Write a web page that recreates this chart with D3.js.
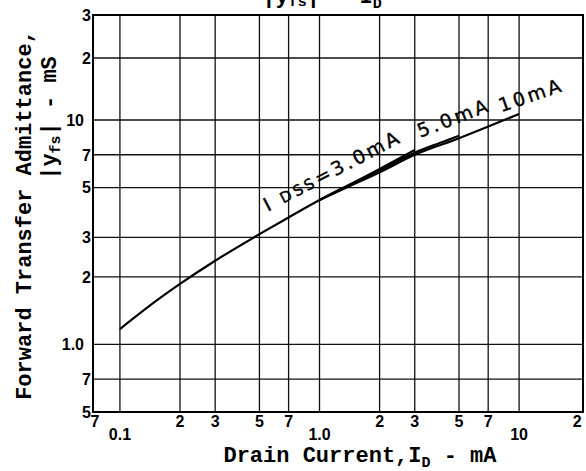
<html>
<head>
<script src="https://d3js.org/d3.v7.min.js" charset="utf-8"></script>
<style type="text/css">
  body { margin: 0; padding: 0; background: #fff; }
  svg { display: block; }
  .tick { font-family: "Liberation Sans", Arial, sans-serif; font-size: 16px; font-weight: bold; fill: #000; }
  .title { font-family: "Liberation Mono", "Courier New", monospace; font-size: 22px; font-weight: bold; fill: #000; }
  .note { font-family: "DejaVu Sans", sans-serif; font-size: 19px; fill: #000; stroke: #000; stroke-width: 0.4px; letter-spacing: 3px; }
</style>
</head>
<body>
<svg id="chart" width="586" height="471"></svg>
<script type="text/javascript">
// drain current (mA) and forward transfer admittance (mS) for each IDSS curve
var idss3Id  = [0.1, 0.15, 0.2, 0.3, 0.5, 0.7, 1.0, 1.5, 2.0, 3.0];
var idss3Yfs = [1.17, 1.55, 1.86, 2.36, 3.1, 3.68, 4.4, 5.3, 6.05, 7.35];
var idss5Id  = [1.0, 1.5, 2.0, 3.0, 4.0, 5.0];
var idss5Yfs = [4.4, 5.25, 5.95, 7.15, 7.9, 8.5];
var idss10Id  = [1.0, 1.5, 2.0, 3.0, 5.0, 7.0, 10.0];
var idss10Yfs = [4.4, 5.2, 5.85, 7.0, 8.3, 9.35, 10.7];

var curveLabels = ["3.0mA", "5.0mA", "10mA"];

var xTicks = [0.07, 0.1, 0.2, 0.3, 0.5, 0.7, 1, 2, 3, 5, 7, 10, 20];
var xTickLabels = ["7", "0.1", "2", "3", "5", "7", "1.0", "2", "3", "5", "7", "10", "2"];
var xGrid = [0.1, 0.2, 0.3, 0.5, 0.7, 1, 2, 3, 5, 7, 10];

var yTicks = [0.5, 0.7, 1, 2, 3, 5, 7, 10, 20, 30];
var yTickLabels = ["5", "7", "1.0", "2", "3", "5", "7", "10", "2", "3"];
var yGrid = [0.7, 1, 2, 3, 5, 7, 10, 20];

var svg = d3.select("#chart");

var x = d3.scaleLog().domain([0.0733, 20.9]).range([93, 583]).clamp(true);
// the printed grid is slightly squeezed in its top decade
var y = d3.scaleLog().domain([0.5, 10, 20, 30]).range([412, 120, 58, 15]);

var x0 = x.range()[0], x1 = x.range()[1];
var yB = y(0.5), yT = y(30);

// grid
svg.append("g").selectAll("line").data(xGrid).enter().append("line")
  .attr("x1", function(d) { return x(d); }).attr("x2", function(d) { return x(d); })
  .attr("y1", yT).attr("y2", yB)
  .attr("stroke", "#111").attr("stroke-width", 1.3);
svg.append("g").selectAll("line").data(yGrid).enter().append("line")
  .attr("y1", function(d) { return y(d); }).attr("y2", function(d) { return y(d); })
  .attr("x1", x0).attr("x2", x1)
  .attr("stroke", "#111").attr("stroke-width", 1.3);

// frame
svg.append("rect")
  .attr("x", x0).attr("y", yT).attr("width", x1 - x0).attr("height", yB - yT)
  .attr("fill", "none").attr("stroke", "#000").attr("stroke-width", 2);

// tick labels
svg.append("g").selectAll("text").data(xTicks).enter().append("text")
  .attr("class", "tick")
  .attr("x", function(d, i) { return x(d) + (i == 0 ? 2 : (i == xTicks.length - 1 ? -2 : 0)); })
  .attr("y", function(d, i) { return (xTickLabels[i].length > 1) ? 440 : 427; })
  .attr("text-anchor", "middle")
  .text(function(d, i) { return xTickLabels[i]; });

svg.append("g").selectAll("text").data(yTicks).enter().append("text")
  .attr("class", "tick")
  .attr("x", function(d, i) { return (yTickLabels[i].length > 1) ? 84 : 91; })
  .attr("y", function(d) { return y(d); })
  .attr("dy", "0.36em")
  .attr("text-anchor", "end")
  .text(function(d, i) { return yTickLabels[i]; });

// curves
var line = d3.line()
  .x(function(d) { return x(d[0]); })
  .y(function(d) { return y(d[1]); })
  .curve(d3.curveMonotoneX);

var curves = [
  d3.zip(idss3Id, idss3Yfs),
  d3.zip(idss5Id, idss5Yfs),
  d3.zip(idss10Id, idss10Yfs)
];
svg.append("g").selectAll("path").data(curves).enter().append("path")
  .attr("d", line)
  .attr("fill", "none").attr("stroke", "#000").attr("stroke-width", 2.2);

// curve labels
var noteAt = [[0.55, 3.9, -27.5], [3.2, 8.33, -21], [8.13, 10.9, -19]];
noteAt.forEach(function(p, i) {
  var t = svg.append("text").attr("class", "note")
    .attr("transform", "translate(" + x(p[0]) + "," + y(p[1]) + ") rotate(" + p[2] + ")");
  if (i == 0) {
    t.append("tspan").text("I ");
    t.append("tspan").attr("font-size", "15px").text("DSS");
    t.append("tspan").text("=" + curveLabels[i]);
  } else {
    t.text(curveLabels[i]);
  }
});

// titles (the top one is clipped by the page edge, as printed)
var head = svg.append("text").attr("class", "title").attr("x", 322).attr("y", 3).attr("text-anchor", "middle");
head.append("tspan").text("|y");
head.append("tspan").attr("font-size", "15px").attr("dy", 3).text("fs");
head.append("tspan").attr("dy", -3).text("| - I");
head.append("tspan").attr("font-size", "15px").attr("dy", 5).text("D");

var xt = svg.append("text").attr("class", "title").attr("x", 360).attr("y", 462).attr("text-anchor", "middle");
xt.append("tspan").text("Drain Current,I");
xt.append("tspan").attr("font-size", "15px").attr("dy", 5).text("D");
xt.append("tspan").attr("dy", -5).text(" - mA");

svg.append("text").attr("class", "title")
  .attr("transform", "translate(31,215) rotate(-90)")
  .attr("text-anchor", "middle")
  .text("Forward Transfer Admittance,");

var yt = svg.append("text").attr("class", "title")
  .attr("transform", "translate(56,118) rotate(-90)")
  .attr("text-anchor", "middle");
yt.append("tspan").text("|y");
yt.append("tspan").attr("font-size", "15px").attr("dy", 4).text("fs");
yt.append("tspan").attr("dy", -4).text("| - mS");
</script>
</body>
</html>
